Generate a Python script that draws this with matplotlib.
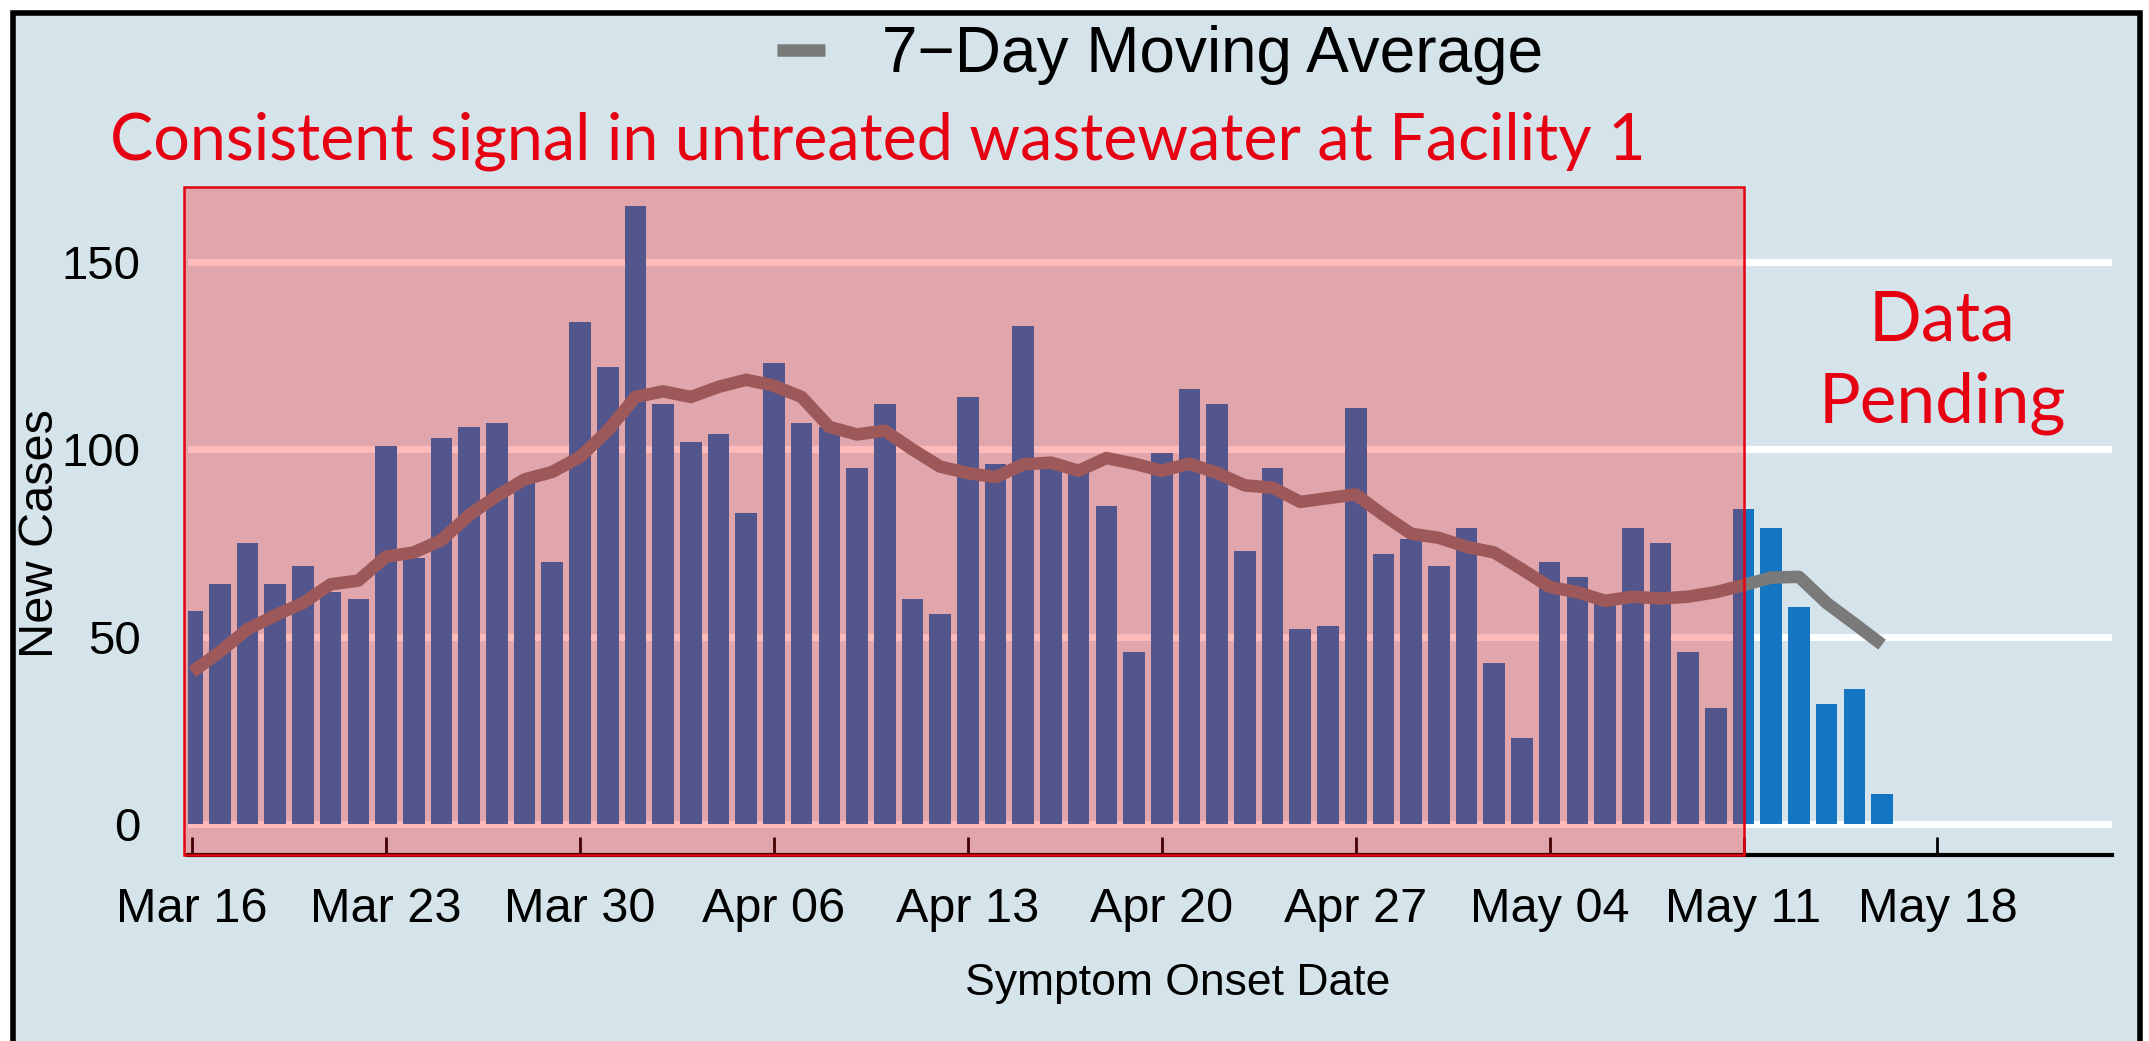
import matplotlib
matplotlib.use("Agg")
import matplotlib.pyplot as plt
import matplotlib.dates as mdates
from matplotlib.patches import Rectangle
import numpy as np
import pandas as pd

# daily new cases by symptom onset date, Mar 16 - May 16
dates = pd.date_range("2020-03-16", "2020-05-16", freq="D")
new_cases = [57, 64, 75, 64, 69, 62, 60, 101, 71, 103, 106, 107, 91, 70,
             134, 122, 165, 112, 102, 104, 83, 123, 107, 106, 95, 112, 60, 56,
             114, 96, 133, 96, 95, 85, 46, 99, 116, 112, 73, 95, 52, 53,
             111, 72, 76, 69, 79, 43, 23, 70, 66, 60, 79, 75, 46, 31,
             84, 79, 58, 32, 36, 8]
moving_avg = [40.6, 46, 52, 55.7, 59, 64, 65, 71.4, 72.5, 75.8, 82.5, 87.6, 92, 94,
              98, 105, 114, 115.5, 114, 116.7, 118.6, 117, 114, 106, 104, 105, 100, 95.4,
              93.7, 92.6, 96, 96.5, 94.3, 97.7, 96.2, 94.3, 96.2, 93.7, 90.4, 89.8, 86, 87,
              88, 82.5, 77.5, 76.4, 74, 72.5, 68, 63.3, 61.9, 59.6, 60.7, 60.2, 60.7, 61.9,
              63.8, 65.8, 66, 59, 53.5, 47.9]
week_ticks = pd.date_range("2020-03-16", "2020-05-18", freq="7D")
tick_labels = [d.strftime("%b %d") for d in week_ticks]
y_ticks = [0, 50, 100, 150]
signal_end = pd.Timestamp("2020-05-11")  # end of wastewater signal period

BG = "#d5e4eb"
BAR = "#1476c2"
MA = "#7a7a7a"
RED = "#e60012"
SANS = ["Liberation Sans", "DejaVu Sans"]
CAL = ["Lato", "DejaVu Sans"]

fig = plt.figure(figsize=(21.49, 10.41), dpi=100, facecolor="white")
# outer frame of the slide picture
fig.patches.append(Rectangle((13 / 2149, -0.05), 2127 / 2149, 1.05 - 13 / 1041,
                             transform=fig.transFigure, facecolor=BG,
                             edgecolor="black", lw=4, zorder=-10))

ax = fig.add_axes([188 / 2149, 1 - 855 / 1041, 1924 / 2149, 680 / 1041])
ax.set_facecolor(BG)
ax.patch.set_alpha(0)

x = mdates.date2num(dates)
ax.bar(x, new_cases, width=0.78, color=BAR, zorder=2)
ax.plot(x, moving_avg, color=MA, lw=9, solid_capstyle="butt", zorder=3,
        label="7\u2212Day Moving Average")

x0 = x[0] - 0.15
ax.set_xlim(x0, x0 + 69.45)
ax.set_ylim(-8.25, 173.25)
ax.set_yticks(y_ticks)
ax.set_xticks(mdates.date2num(week_ticks))
ax.set_xticklabels(tick_labels)
ax.yaxis.grid(True, color="white", lw=5)
ax.set_axisbelow(True)
for s in ["top", "right", "left"]:
    ax.spines[s].set_visible(False)
ax.spines["bottom"].set_linewidth(3)
ax.tick_params(axis="x", direction="in", length=13, width=2, pad=23,
               labelsize=35, labelfontfamily=SANS[0])
ax.tick_params(axis="y", length=0, pad=34, labelsize=34, labelfontfamily=SANS[0])

# red highlight for the wastewater-signal period
ylo = ax.get_ylim()[0]
hl = Rectangle((x[0] - 0.29, ylo), mdates.date2num(signal_end) - (x[0] - 0.29), 170 - ylo,
               facecolor=(1, 0, 0, 0.27), edgecolor=RED, lw=1.8, zorder=5, clip_on=False)
ax.add_patch(hl)

fig.legend(loc="center", bbox_to_anchor=(1160 / 2149, 1 - 55 / 1041), frameon=False,
           handlelength=0.75, handletextpad=0.9, prop={"family": SANS, "size": 46})
fig.text(110 / 2149, 1 - 141 / 1041, "Consistent signal in untreated wastewater at Facility 1",
         color=RED, fontsize=46.5, family=CAL, ha="left", va="center")
fig.text(1942 / 2149, 1 - 362 / 1041, "Data\nPending", color=RED, fontsize=50,
         family=CAL, ha="center", va="center", linespacing=1.38)
fig.text(41 / 2149, 1 - 534 / 1041, "New Cases", rotation=90, fontsize=35,
         family=SANS, ha="center", va="center")
fig.text(1178 / 2149, 1 - 984 / 1041, "Symptom Onset Date", fontsize=32,
         family=SANS, ha="center", va="center")

fig.savefig("out.png", dpi=100, facecolor="white")
